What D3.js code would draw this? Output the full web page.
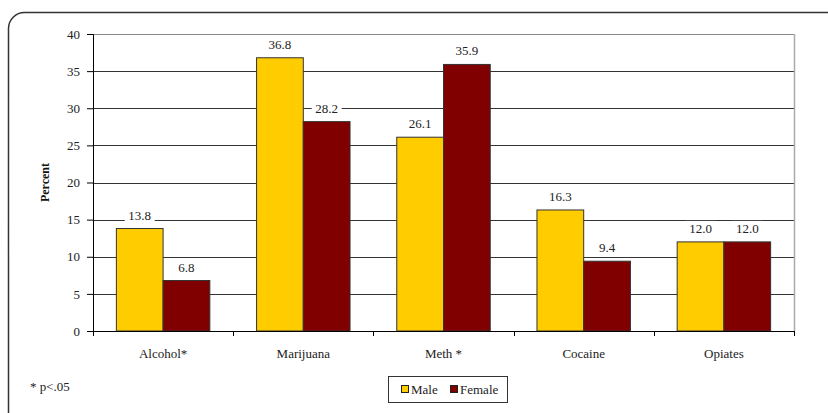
<!DOCTYPE html>
<html><head><meta charset="utf-8">
<script src="https://cdn.jsdelivr.net/npm/d3@7"></script>
</head><body style="margin:0">
<svg id="c" width="828" height="413"></svg>
<script>
const categories = ["Alcohol*", "Marijuana", "Meth *", "Cocaine", "Opiates"];
const seriesNames = ["Male", "Female"];
const maleValues = [13.8, 36.8, 26.1, 16.3, 12.0];
const femaleValues = [6.8, 28.2, 35.9, 9.4, 12.0];
const yTicks = [0, 5, 10, 15, 20, 25, 30, 35, 40];
const colors = ["#FFCC00", "#800000"];

const svg = d3.select("#c");
const FONT = '"Liberation Serif"';
function tx(sel, size, bold) {
  return sel.attr("style", `font-family:${FONT};font-size:${size}px${bold ? ";font-weight:bold" : ""}`);
}

// frame
svg.append("rect").attr("x", 8.5).attr("y", 12.5).attr("width", 840).attr("height", 420)
  .attr("rx", 16).attr("fill", "none").attr("stroke", "#333").attr("stroke-width", 1.5);

const L = 93, R = 794, T = 34, B = 331;
const x0 = d3.scaleBand().domain(categories).range([L, R]).paddingInner(0).paddingOuter(0);
const x1 = d3.scaleBand().domain(seriesNames).range([0, x0.bandwidth()]).paddingInner(0).paddingOuter(0.5);
const y = d3.scaleLinear().domain([0, 40]).range([B, T]);

// gridlines
svg.append("g").selectAll("line").data(yTicks.filter(d => d > 0)).join("line")
  .attr("x1", L).attr("x2", R).attr("y1", d => Math.round(y(d)) + 0.5).attr("y2", d => Math.round(y(d)) + 0.5)
  .attr("stroke", d => d === 40 ? "#888" : "#333").attr("stroke-width", 1);
// right border
svg.append("line").attr("x1", R + 0.5).attr("x2", R + 0.5).attr("y1", T).attr("y2", B)
  .attr("stroke", "#aaa").attr("stroke-width", 1.5);

const data = categories.map((c, i) => ({ c, vals: [maleValues[i], femaleValues[i]] }));

// bars
const groups = svg.append("g").selectAll("g").data(data).join("g")
  .attr("transform", d => `translate(${x0(d.c)},0)`);
groups.selectAll("rect").data(d => d.vals.map((v, j) => ({ v, s: seriesNames[j], j }))).join("rect")
  .attr("x", d => x1(d.s)).attr("width", x1.bandwidth())
  .attr("y", d => y(d.v)).attr("height", d => B - y(d.v))
  .attr("fill", d => colors[d.j]).attr("stroke", "#333").attr("stroke-width", 1);

// value labels with white backgrounds
groups.each(function (d) {
  const gg = d3.select(this);
  d.vals.forEach((v, j) => {
    const cx = x1(seriesNames[j]) + x1.bandwidth() / 2;
    const ty = y(v) - 9;
    gg.append("rect").attr("x", cx - 15).attr("y", ty - 12).attr("width", 30).attr("height", 15).attr("fill", "#fff");
    tx(gg.append("text"), 13).attr("x", cx).attr("y", ty).attr("text-anchor", "middle")
      .attr("fill", "#222").text(v.toFixed(1));
  });
});

// y axis
const yAxis = svg.append("g").attr("transform", `translate(${L},0)`)
  .call(d3.axisLeft(y).tickValues(yTicks).tickSize(6).tickPadding(7).tickFormat(d3.format("d")));
yAxis.attr("font-family", null).attr("font-size", null);
yAxis.select(".domain").attr("stroke", "#000");
yAxis.selectAll("line").attr("stroke", "#000");
tx(yAxis.selectAll("text"), 13).attr("fill", "#222");

// x axis
const xAxis = svg.append("g").attr("transform", `translate(0,${B})`);
xAxis.append("line").attr("x1", L).attr("x2", R).attr("y1", 0.5).attr("y2", 0.5).attr("stroke", "#000");
const bounds = categories.map(c => x0(c)).concat([R]);
xAxis.selectAll("line.t").data(bounds).join("line").attr("class", "t")
  .attr("x1", d => Math.round(d) + 0.5).attr("x2", d => Math.round(d) + 0.5).attr("y1", 0).attr("y2", 5).attr("stroke", "#000");
tx(xAxis.selectAll("text").data(categories).join("text"), 13)
  .attr("x", d => x0(d) + x0.bandwidth() / 2).attr("y", 27).attr("text-anchor", "middle")
  .attr("fill", "#222").text(d => d);

// y title
tx(svg.append("text"), 12, true).attr("transform", `translate(49,${(T + B) / 2}) rotate(-90)`)
  .attr("text-anchor", "middle").attr("fill", "#111").text("Percent");

// footnote
tx(svg.append("text"), 13).attr("x", 30).attr("y", 391).attr("fill", "#222").text("* p<.05");

// legend
const lg = svg.append("g");
lg.append("rect").attr("x", 388.5).attr("y", 376.5).attr("width", 119).attr("height", 26)
  .attr("fill", "#fff").attr("stroke", "#333").attr("stroke-width", 1);
const legX = [401, 450];
seriesNames.forEach((s, j) => {
  lg.append("rect").attr("x", legX[j] + 0.5).attr("y", 385.5).attr("width", 7).attr("height", 7)
    .attr("fill", colors[j]).attr("stroke", "#222");
  tx(lg.append("text"), 13).attr("x", legX[j] + 10).attr("y", 394).attr("fill", "#222").text(s);
});
</script></body></html>
